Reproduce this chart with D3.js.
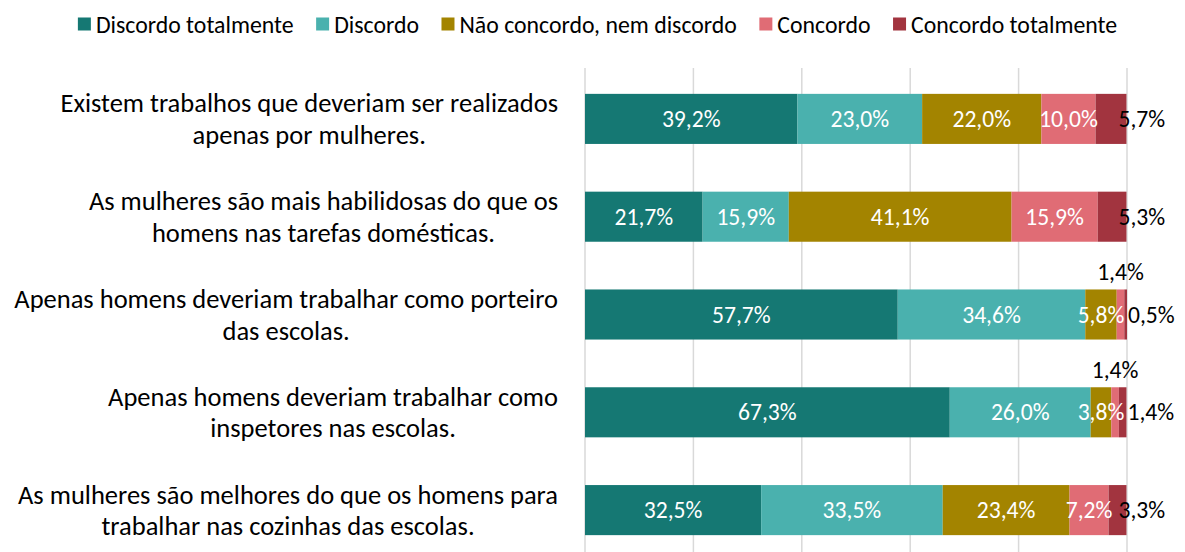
<!DOCTYPE html>
<html><head><meta charset="utf-8">
<script src="https://cdn.jsdelivr.net/npm/d3@7"></script>
<style>body{margin:0;background:#fff}svg{display:block}text{font-family:Carlito,Calibri,Lato,"Open Sans",sans-serif}</style>
</head><body><svg id="c" width="1185" height="552"></svg>
<script>
const categories = [
  ["Existem trabalhos que deveriam ser realizados", "apenas por mulheres."],
  ["As mulheres são mais habilidosas do que os", "homens nas tarefas domésticas."],
  ["Apenas homens deveriam trabalhar como porteiro", "das escolas."],
  ["Apenas homens deveriam trabalhar como", "inspetores nas escolas."],
  ["As mulheres são melhores do que os homens para", "trabalhar nas cozinhas das escolas."]
];
const seriesNames = ["Discordo totalmente","Discordo","Não concordo, nem discordo","Concordo","Concordo totalmente"];
const discordoTotalmente = [39.2, 21.7, 57.7, 67.3, 32.5];
const discordo           = [23.0, 15.9, 34.6, 26.0, 33.5];
const naoConcordo        = [22.0, 41.1, 5.8, 3.8, 23.4];
const concordo           = [10.0, 15.9, 1.4, 1.4, 7.2];
const concordoTotalmente = [5.7, 5.3, 0.5, 1.4, 3.3];
const ticks = [0, 20, 40, 60, 80, 100];
const colors = ["#157873","#4ab1ae","#a38400","#e06c75","#a2343f"];

const seriesValues = [discordoTotalmente, discordo, naoConcordo, concordo, concordoTotalmente];
const rows = categories.map((c,i)=>{ const o={i}; seriesNames.forEach((s,k)=>o[s]=seriesValues[k][i]); return o; });
const stacked = d3.stack().keys(seriesNames)(rows);

const svg = d3.select("#c");
const x = d3.scaleLinear().domain([0,100]).range([585,1127]);
const y = d3.scaleBand().domain(d3.range(categories.length)).range([70,559]).paddingInner(0.488).paddingOuter(0.244);
const fmt = v => d3.format(".1f")(v).replace(".", ",") + "%";

// gridlines
svg.append("g").selectAll("line").data(ticks).join("line")
  .attr("x1",d=>x(d)).attr("x2",d=>x(d)).attr("y1",68).attr("y2",560)
  .attr("stroke","#d9d9d9").attr("stroke-width",1.5);

// bars
const gs = svg.append("g").selectAll("g").data(stacked).join("g").attr("fill",(d,k)=>colors[k]);
gs.selectAll("rect").data(d=>d).join("rect")
  .attr("x",d=>x(d[0])).attr("width",d=>x(d[1])-x(d[0]))
  .attr("y",(d,i)=>y(i)).attr("height",y.bandwidth());

// data labels
const lab = svg.append("g").attr("font-size",23.6);
stacked.forEach((s,k)=>{
  s.forEach((d,i)=>{
    const v = d[1]-d[0];
    const cy = y(i)+y.bandwidth()/2;
    let t = lab.append("text").text(fmt(seriesValues[k][i])).attr("dominant-baseline","central");
    if (k < 3 || (k === 3 && v >= 2)) {
      t.attr("x",(x(d[0])+x(d[1]))/2).attr("y",cy).attr("text-anchor","middle").attr("fill","#fff");
    } else if (k === 3) {
      t.attr("x",(x(d[0])+x(d[1]))/2).attr("y",y(i)-17).attr("text-anchor","middle").attr("fill","#000");
    } else if (v < 2) {
      t.attr("x",x(d[1])+1).attr("y",cy).attr("text-anchor","start").attr("fill","#000");
    } else {
      t.attr("x",x(d[1])-8).attr("y",cy).attr("text-anchor","start").attr("fill","#000");
    }
  });
});

// category labels
const cl = svg.append("g").attr("font-size",26.5).attr("fill","#000");
categories.forEach((lines,i)=>{
  const g = cl.append("g");
  const ts = lines.map((ln,j)=>g.append("text").text(ln).attr("text-anchor","middle")
    .attr("y", y(i)+y.bandwidth()/2 + (j===0?-15.5:16)).attr("dominant-baseline","central"));
  const w = d3.max(ts, t=>t.node().getComputedTextLength());
  ts.forEach(t=>t.attr("x", 558 - w/2));
});

// legend
const lg = svg.append("g").attr("font-size",23.8);
let items = seriesNames.map((n,k)=>{
  const g = lg.append("g");
  g.append("rect").attr("width",13).attr("height",13).attr("y",17.5).attr("fill",colors[k]);
  const t = g.append("text").text(n).attr("x",18).attr("y",24).attr("dominant-baseline","central").attr("fill","#000");
  return {g, w: 18 + t.node().getComputedTextLength()};
});
const gap = 22.5;
const total = d3.sum(items,d=>d.w) + gap*(items.length-1);
let cx = 597.5 - total/2;
items.forEach(it=>{ it.g.attr("transform",`translate(${cx},0)`); cx += it.w + gap; });
</script></body></html>
